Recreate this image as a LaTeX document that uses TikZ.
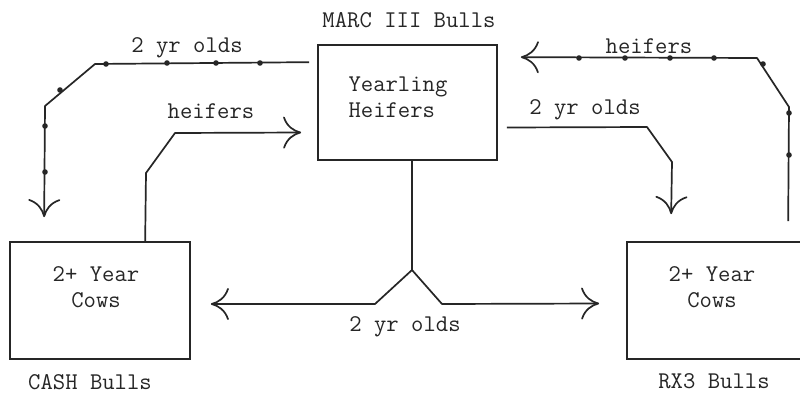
\documentclass[tikz,border=0pt]{standalone}
\usetikzlibrary{arrows.meta,calc}
\definecolor{ink}{RGB}{38,38,38}
\begin{document}
\begin{tikzpicture}[x=1pt,y=-1pt,
  every node/.style={font=\ttfamily\fontsize{24}{26}\selectfont, text=ink},
  box/.style={draw=ink, line width=1.7pt, inner sep=0pt},
  flow/.style={draw=ink, line width=1.7pt, line join=round,
    -{Computer Modern Rightarrow[length=18pt,width=32pt,line width=1.7pt]}},
  plain/.style={draw=ink, line width=1.7pt, line join=round}]
\clip (0,0) rectangle (800,394);
\fill[white] (0,0) rectangle (800,394);

% boxes
\node[box, minimum width=179pt, minimum height=115pt] (Y) at (407.5,102.5) {};
\node[box, minimum width=180pt, minimum height=117pt] (L) at (100,300.5) {};
\node[box, minimum width=190pt, minimum height=117pt] (R) at (722,300.5) {};

% box texts
\node[anchor=west, align=left] (Yt) at (345,97.5) {Yearling\\Heifers};
\node[align=center] (Lt) at (96,287) {2+ Year\\Cows};
\node[align=center] (Rt) at (712,287) {2+ Year\\Cows};

% bull labels
\node (marc) at (409,20) {MARC III Bulls};
\node (cash) at (90,382) {CASH Bulls};
\node (rx3) at (714,381) {RX3 Bulls};

% connector labels
\node (l1) at (187,48) {2 yr olds};
\node (l2) at (211,111) {heifers};
\node (l3) at (649,46) {heifers};
\node (l4) at (585,110) {2 yr olds};
\node (l5) at (405,327) {2 yr olds};

% top-left: 2 yr olds (Yearling -> left cows)
\draw[flow] ($(Y.north west)+(-8,18)$) -- (95,64) -- (45,106)
  -- ($(L.north west)+(35,-24)$);
\foreach \p in {(106,64),(167,63),(216,63),(260,63),(60,90),(45,126),(45,172)}
  \fill[ink] \p circle (2.8pt);

% left: heifers (left cows -> Yearling)
\draw[flow] ($(L.north west)+(136,0)$) -- (146,173) -- (175,133)
  -- ($(Y.west)+(-16,30)$);

% top-right: heifers (right cows -> Yearling)
\draw[flow] ($(R.north west)+(162,-20)$) -- (789,107) -- (757,58)
  -- ($(Y.north east)+(23,13)$);
\foreach \p in {(579,58),(625,58),(670,58),(714,58),(763,64),(789,113),(789,155)}
  \fill[ink] \p circle (2.8pt);

% right: 2 yr olds (Yearling -> right cows)
\draw[flow] ($(Y.east)+(9,25)$) -- (647,127) -- (672,162)
  -- ($(R.north west)+(45,-27)$);

% bottom fork: 2 yr olds to both cow herds
\coordinate (fork) at (412,270);
\draw[plain] (Y.south -| fork) -- (fork);
\draw[flow] (fork) -- (375,304) -- ($(L.east)+(20,3.5)$);
\draw[flow] (fork) -- (442,304) -- ($(R.west)+(-27,3)$);
\end{tikzpicture}
\end{document}
